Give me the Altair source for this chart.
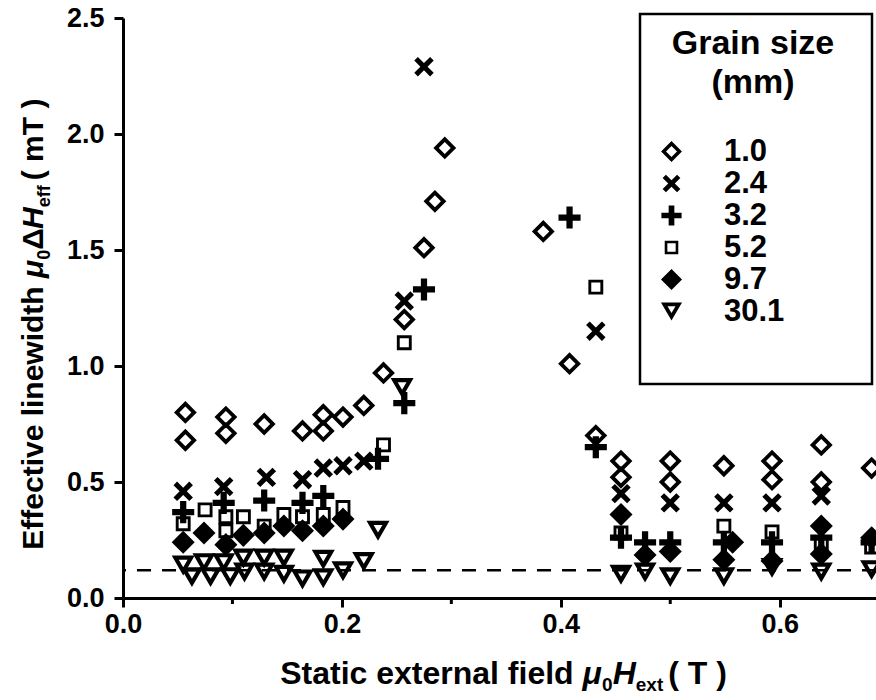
import altair as alt
import pandas as pd

FONT = "Liberation Sans"

# ---------------- data ----------------
series_names = ["1.0", "2.4", "3.2", "5.2", "9.7", "30.1"]
legend_title = ["Grain size", "(mm)"]

x_g10 = [0.057, 0.057, 0.094, 0.094, 0.129, 0.164, 0.183, 0.183, 0.201, 0.220, 0.238, 0.257, 0.275, 0.285,
         0.294, 0.384, 0.408, 0.432, 0.455, 0.455, 0.500, 0.500, 0.549, 0.593, 0.593, 0.638, 0.638, 0.684]
y_g10 = [0.80, 0.68, 0.78, 0.71, 0.75, 0.72, 0.79, 0.72, 0.78, 0.83, 0.97, 1.20, 1.51, 1.71,
         1.94, 1.58, 1.01, 0.70, 0.59, 0.52, 0.59, 0.50, 0.57, 0.59, 0.51, 0.66, 0.50, 0.56]

x_g24 = [0.055, 0.092, 0.131, 0.164, 0.183, 0.201, 0.220, 0.257, 0.275, 0.432, 0.455, 0.500, 0.549, 0.593, 0.638]
y_g24 = [0.46, 0.48, 0.52, 0.51, 0.56, 0.57, 0.59, 1.28, 2.29, 1.15, 0.45, 0.41, 0.41, 0.41, 0.44]

x_g32 = [0.055, 0.092, 0.129, 0.164, 0.183, 0.233, 0.257, 0.275, 0.408, 0.432, 0.455, 0.477, 0.500,
         0.549, 0.593, 0.638, 0.684]
y_g32 = [0.37, 0.41, 0.42, 0.41, 0.44, 0.60, 0.84, 1.33, 1.64, 0.65, 0.26, 0.24, 0.24,
         0.24, 0.24, 0.26, 0.24]

x_g52 = [0.055, 0.075, 0.094, 0.094, 0.110, 0.129, 0.147, 0.164, 0.183, 0.201, 0.238, 0.257, 0.432,
         0.455, 0.549, 0.593, 0.638, 0.684]
y_g52 = [0.32, 0.38, 0.35, 0.29, 0.35, 0.31, 0.36, 0.35, 0.36, 0.39, 0.66, 1.10, 1.34,
         0.28, 0.31, 0.285, 0.23, 0.22]

x_g97 = [0.055, 0.074, 0.094, 0.110, 0.129, 0.147, 0.164, 0.183, 0.201, 0.455, 0.477, 0.500, 0.549,
         0.557, 0.593, 0.638, 0.638, 0.684]
y_g97 = [0.24, 0.28, 0.23, 0.27, 0.28, 0.31, 0.29, 0.31, 0.34, 0.36, 0.185, 0.20, 0.165,
         0.24, 0.16, 0.31, 0.19, 0.26]

x_g301 = [0.055, 0.063, 0.074, 0.080, 0.092, 0.098, 0.110, 0.111, 0.129, 0.129, 0.147, 0.147, 0.164,
          0.183, 0.183, 0.201, 0.220, 0.233, 0.255, 0.455, 0.477, 0.500, 0.549, 0.593, 0.638, 0.684]
y_g301 = [0.14, 0.09, 0.15, 0.09, 0.15, 0.09, 0.17, 0.11, 0.17, 0.11, 0.17, 0.10, 0.08,
          0.165, 0.085, 0.115, 0.155, 0.29, 0.905, 0.10, 0.11, 0.09, 0.09, 0.13, 0.11, 0.12]

dash_level = [0.12]
x_ticks = [0.0, 0.2, 0.4, 0.6]
x_minor = [0.1, 0.3, 0.5]
y_ticks = [0.0, 0.5, 1.0, 1.5, 2.0, 2.5]

# ---------------- build table ----------------
xs_all = [x_g10, x_g24, x_g32, x_g52, x_g97, x_g301]
ys_all = [y_g10, y_g24, y_g32, y_g52, y_g97, y_g301]
frames = [pd.DataFrame({"field": xs, "width": ys, "grain": name})
          for name, xs, ys in zip(series_names, xs_all, ys_all)]
df = pd.concat(frames, ignore_index=True)

# ---------------- styling ----------------
W, H = 753, 580
shape_paths = [
    "M0,-0.95L0.95,0L0,0.95L-0.95,0ZM0,-0.5L-0.5,0L0,0.5L0.5,0Z",                       # open diamond
    "M-0.81,-0.51L-0.51,-0.81L0,-0.3L0.51,-0.81L0.81,-0.51L0.3,0L0.81,0.51"
    "L0.51,0.81L0,0.3L-0.51,0.81L-0.81,0.51L-0.3,0Z",                                     # x
    "M-0.26,-0.92L0.26,-0.92L0.26,-0.26L0.92,-0.26L0.92,0.26L0.26,0.26L0.26,0.92L-0.26,0.92"
    "L-0.26,0.26L-0.92,0.26L-0.92,-0.26L-0.26,-0.26Z",                                   # plus
    "M-0.62,-0.62L0.62,-0.62L0.62,0.62L-0.62,0.62ZM-0.38,-0.38L-0.38,0.38L0.38,0.38L0.38,-0.38Z",  # open square
    "M0,-0.96L0.96,0L0,0.96L-0.96,0Z",                                                   # filled diamond
    "M-0.96,-0.83L0.96,-0.83L0,0.83ZM-0.365,-0.487L0,0.144L0.365,-0.487Z",                # open triangle down
]

xscale = alt.Scale(domain=[0, 0.688], nice=False, zero=False)
yscale = alt.Scale(domain=[0, 2.5], nice=False)

legend = alt.Legend(
    title=None, orient="none", legendX=533, legendY=118,
    labelFont=FONT, labelFontSize=31, labelFontWeight="bold", labelColor="black",
    labelOffset=37, symbolSize=480, symbolFillColor="black",
    symbolStrokeWidth=0, rowPadding=0, padding=0,
)

points = alt.Chart(df).mark_point(filled=True, size=576, opacity=1, color="black", strokeWidth=0).encode(
    x=alt.X("field:Q", scale=xscale,
            axis=alt.Axis(values=x_ticks, format=".1f", title=None, grid=False, labelPadding=4,
                          tickSize=9, labelFlush=False)),
    y=alt.Y("width:Q", scale=yscale,
            axis=alt.Axis(values=y_ticks, format=".1f", title=None, grid=False, labelPadding=10,
                          tickSize=9)),
    shape=alt.Shape("grain:N", scale=alt.Scale(domain=series_names, range=shape_paths), legend=legend),
)

dash = alt.Chart(pd.DataFrame({"level": dash_level})).mark_rule(
    color="black", strokeWidth=2.5, strokeDash=[14, 11]).encode(y=alt.Y("level:Q", scale=yscale))

minor = alt.Chart(pd.DataFrame({"m": x_minor})).mark_rule(color="black", strokeWidth=3).encode(
    x=alt.X("m:Q", scale=xscale), y=alt.value(H), y2=alt.value(H + 6))

box = alt.Chart(alt.Data(values=[{}])).mark_rect(fill="transparent", stroke="black", strokeWidth=2.5).encode(
    x=alt.value(517), x2=alt.value(749), y=alt.value(-4), y2=alt.value(366))

# ---------------- axis titles with sub/italic segments ----------------
ADV = {' ': 278, '(': 333, ')': 333, '0': 556, 'E': 667, 'H': 722, 'S': 667, 'T': 611, 'a': 556,
       'c': 556, 'd': 611, 'e': 556, 'f': 333, 'h': 611, 'i': 278, 'l': 278, 'm': 889, 'n': 611,
       'r': 389, 's': 556, 't': 333, 'v': 556, 'w': 778, 'x': 556, 'μ': 611, 'Δ': 690}


def tw(s, size):
    return sum(ADV.get(c, 556) for c in s) / 1000.0 * size


def seg(text, x, y, size, italic, angle, align="left"):
    return alt.Chart(alt.Data(values=[{}])).mark_text(
        text=text, font=FONT, fontSize=size, fontWeight="bold",
        fontStyle="italic" if italic else "normal", align=align, baseline="alphabetic",
        angle=angle, color="black").encode(x=alt.value(x), y=alt.value(y))


# (text, font size, italic, baseline shift, extra gap before)
XB, XS = 32, 19
x_title = [("Static external field ", XB, False, 0, 0), ("μ", XB, True, 0, 0), ("0", XS, False, 7, 0),
           ("H", XB, True, 0, 0), ("ext", XS, False, 7, 0), (" ( T )", XB, False, 0, 5)]
YB, YS = 30, 18
y_title = [("Effective linewidth ", YB, False, 0, 0), ("μ", YB, True, 0, 0), ("0", YS, False, 7, 0),
           ("Δ", YB, False, 0, 0), ("H", YB, True, 0, 0), ("eff", YS, False, 7, 0),
           (" ( mT )", YB, False, 0, 5)]

layers = [box, dash, minor, points]

# legend title (two centred lines inside the box)
layers.append(seg(legend_title[0], 630, 36, 34, False, 0, align="center"))
layers.append(seg(legend_title[1], 630, 75, 34, False, 0, align="center"))

total = sum(tw(t, s) + g for t, s, _, _, g in x_title)
cx = 385 - total / 2
for t, s, it, sh, g in x_title:
    cx += g
    layers.append(seg(t, cx, 666 + sh, s, it, 0))
    cx += tw(t, s)

total = sum(tw(t, s) + g for t, s, _, _, g in y_title)
cy = 302 + total / 2
for t, s, it, sh, g in y_title:
    cy -= g
    layers.append(seg(t, -80 + sh, cy, s, it, 270))
    cy -= tw(t, s)

chart = alt.layer(*layers).properties(
    width=W, height=H,
    autosize=alt.AutoSizeParams(type="none"),
    padding={"left": 123, "top": 18, "right": 0, "bottom": 102},
    background="white",
).configure_view(stroke=None).configure_axis(
    labelFont=FONT, labelFontSize=27, labelFontWeight="bold", labelColor="black",
    domainColor="black", domainWidth=3, tickColor="black", tickWidth=3,
)

chart.save("out.html", embed_options={"renderer": "svg", "actions": False})
